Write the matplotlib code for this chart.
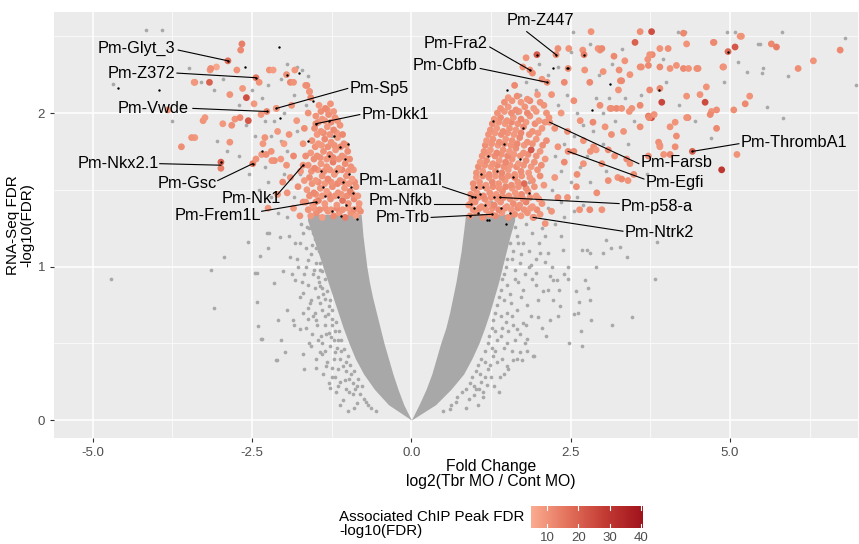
import matplotlib
matplotlib.use("Agg")
import matplotlib.pyplot as plt
from matplotlib.colors import LinearSegmentedColormap, Normalize
from matplotlib.cm import ScalarMappable

plt.rcParams['font.family'] = ['Liberation Sans', 'DejaVu Sans']

# dense grey mass of non-significant genes (envelope of the V, by FDR level)
cloud_y = [0.0, 0.1, 0.2, 0.3, 0.4, 0.5, 0.6, 0.7, 0.8, 0.9, 1.0, 1.1, 1.2, 1.3, 1.34]
cloud_left_in = [0.0, -0.12, -0.21, -0.29, -0.36, -0.43, -0.49, -0.55, -0.61, -0.66, -0.70, -0.73, -0.76, -0.78, -0.79]
cloud_left_out = [0.0, -0.36, -0.58, -0.75, -0.88, -0.98, -1.07, -1.15, -1.23, -1.31, -1.39, -1.47, -1.55, -1.63, -1.63]
cloud_right_in = [0.0, 0.12, 0.23, 0.32, 0.39, 0.46, 0.54, 0.60, 0.65, 0.70, 0.74, 0.78, 0.81, 0.84, 0.85]
cloud_right_out = [0.0, 0.38, 0.62, 0.82, 0.95, 1.06, 1.15, 1.23, 1.30, 1.37, 1.43, 1.49, 1.55, 1.62, 1.62]

# individual grey genes (fold change, -log10 FDR)
grey_left = [
    (-1.60, 1.25), (-1.70, 1.22), (-1.66, 1.12), (-1.58, 1.08), (-1.52, 1.18), (-1.49, 1.02), (-1.55, 0.95),
    (-1.45, 0.90), (-1.40, 0.97), (-1.62, 0.88), (-1.38, 0.82), (-1.44, 0.76), (-1.30, 0.74), (-1.52, 0.70),
    (-1.25, 0.66), (-1.35, 0.62), (-1.20, 0.58), (-1.42, 0.55), (-1.15, 0.52), (-1.28, 0.48), (-1.10, 0.45),
    (-1.22, 0.40), (-1.02, 0.38), (-1.15, 0.33), (-0.95, 0.30), (-1.05, 0.26), (-0.85, 0.22), (-0.92, 0.17),
    (-0.75, 0.14), (-0.68, 0.10), (-0.55, 0.06), (-1.80, 1.05), (-1.75, 0.80), (-1.85, 0.62), (-1.66, 0.60),
    (-1.60, 0.50), (-1.50, 0.40), (-1.38, 0.30), (-1.30, 0.24), (-1.18, 0.18), (-1.08, 0.13), (-1.92, 1.20),
    (-1.88, 0.95), (-1.70, 0.70), (-1.58, 0.78), (-1.48, 0.62), (-1.35, 0.45), (-1.25, 0.34), (-1.74, 1.28),
    (-1.82, 1.15), (-2.43, 0.96), (-2.41, 0.61), (-2.34, 0.53), (-2.42, 0.77), (-2.12, 0.39), (-1.99, 0.44),
    (-2.04, 0.52), (-2.10, 0.65), (-2.15, 0.89), (-2.01, 0.97), (-2.25, 1.12), (-2.38, 1.07), (-2.27, 1.22),
    (-2.06, 1.19), (-1.91, 1.06), (-1.83, 0.91), (-1.96, 0.72), (-1.86, 0.65), (-1.75, 0.59), (-1.70, 0.43),
    (-1.68, 0.33), (-1.49, 0.34), (-1.57, 0.48), (-1.59, 0.76), (-1.70, 0.83), (-1.65, 1.00), (-1.75, 1.15),
    (-1.28, 0.21), (-1.15, 0.22), (-1.25, 0.28), (-1.02, 0.20), (-0.86, 0.11), (-1.41, 0.43), (-1.34, 0.56),
    (-1.50, 0.65), (-1.44, 0.87), (-1.44, 1.02), (-1.49, 1.17), (-4.71, 0.92), (-3.15, 0.98), (-3.10, 0.73),
    (-2.94, 1.06), (-2.56, 1.16), (-2.46, 0.96), (-2.36, 0.53), (-2.24, 1.22), (-2.11, 0.39),
    (-1.58, 1.30), (-1.64, 1.26), (-1.56, 1.14), (-1.62, 1.04), (-1.53, 0.98), (-1.47, 0.93), (-1.52, 0.86),
    (-1.41, 0.86), (-1.36, 0.79), (-1.47, 0.80), (-1.40, 0.72), (-1.31, 0.69), (-1.36, 0.68), (-1.25, 0.62),
    (-1.30, 0.57), (-1.22, 0.52), (-1.26, 0.54), (-1.17, 0.47), (-1.20, 0.44), (-1.12, 0.40), (-1.08, 0.35),
    (-1.03, 0.32), (-0.98, 0.27), (-0.92, 0.24), (-0.88, 0.20), (-0.80, 0.17), (-0.72, 0.12), (-0.63, 0.08),
    (-1.45, 1.10), (-1.50, 1.12), (-1.55, 1.22), (-1.44, 0.98), (-1.35, 0.92), (-1.33, 0.84), (-1.28, 0.78),
    (-1.24, 0.72), (-1.18, 0.64), (-1.14, 0.58), (-1.10, 0.52), (-1.06, 0.46), (-1.00, 0.42), (-0.97, 0.36),
    (-0.90, 0.32), (-0.84, 0.27), (-0.78, 0.22), (-1.68, 0.95), (-1.72, 0.90), (-1.63, 0.73), (-1.55, 0.68),
    (-1.46, 0.52), (-1.40, 0.50), (-1.32, 0.38), (-1.20, 0.28), (-1.12, 0.25), (-0.98, 0.18), (-1.78, 1.00),
    (-1.62, 0.66), (-1.56, 0.56), (-1.44, 0.44), (-1.34, 0.35), (-1.12, 0.10), (-0.90, 0.08), (-1.00, 0.06),
]
grey_right = [
    (1.55, 1.25), (1.65, 1.20), (1.60, 1.10), (1.75, 1.15), (1.50, 1.05), (1.70, 1.02), (1.45, 0.95),
    (1.62, 0.92), (1.85, 1.00), (1.40, 0.85), (1.55, 0.82), (1.75, 0.85), (1.35, 0.75), (1.50, 0.70),
    (1.65, 0.72), (1.28, 0.65), (1.42, 0.60), (1.60, 0.62), (1.22, 0.55), (1.35, 0.52), (1.50, 0.50),
    (1.15, 0.45), (1.28, 0.42), (1.42, 0.40), (1.05, 0.36), (1.20, 0.33), (0.95, 0.28), (1.10, 0.25),
    (0.85, 0.20), (0.98, 0.16), (0.70, 0.12), (0.60, 0.07), (1.90, 1.22), (1.95, 0.88), (1.82, 0.75),
    (1.70, 0.56), (1.58, 0.45), (1.45, 0.30), (1.30, 0.22), (1.12, 0.15), (2.00, 1.15), (1.80, 0.62),
    (1.65, 0.40), (1.38, 0.18), (2.05, 1.25), (3.85, 1.16), (3.82, 0.92), (3.47, 0.67), (3.15, 0.62),
    (3.38, 1.06), (3.27, 1.13), (3.14, 1.12), (3.05, 1.17), (3.00, 1.09), (2.89, 1.00), (2.82, 0.65),
    (2.81, 0.78), (2.72, 0.91), (2.67, 0.48), (2.66, 0.58), (2.58, 0.84), (2.55, 0.69), (2.48, 0.50),
    (2.46, 0.92), (2.67, 1.11), (2.75, 1.11), (2.80, 1.09), (2.38, 1.11), (2.46, 1.00), (2.17, 0.65),
    (2.12, 0.55), (1.93, 0.42), (1.81, 0.53), (2.30, 0.68), (2.33, 0.74), (2.22, 0.78), (2.28, 0.91),
    (2.17, 0.94), (2.07, 0.84), (2.10, 1.03), (2.02, 1.09), (2.14, 1.09), (1.88, 1.01), (1.96, 0.96),
    (1.60, 0.39), (1.52, 0.33), (1.39, 0.28), (1.18, 0.23), (1.02, 0.20), (1.71, 0.44), (1.65, 0.59),
    (1.75, 0.63), (2.62, 0.70), (2.63, 0.77), (2.31, 0.85), (2.23, 0.91), (1.99, 0.67), (1.91, 0.42),
    (1.82, 0.45), (1.74, 0.39), (2.77, 0.86),
    (1.58, 1.30), (1.62, 1.26), (1.55, 1.15), (1.58, 1.05), (1.48, 1.00), (1.42, 0.92), (1.50, 0.88),
    (1.38, 0.80), (1.45, 0.78), (1.32, 0.70), (1.40, 0.68), (1.26, 0.60), (1.32, 0.58), (1.20, 0.50),
    (1.26, 0.47), (1.10, 0.40), (1.16, 0.38), (1.02, 0.32), (1.08, 0.30), (0.92, 0.24), (0.98, 0.22),
    (0.80, 0.18), (0.72, 0.15), (0.62, 0.10), (0.50, 0.06), (1.68, 1.15), (1.72, 1.08), (1.62, 0.98),
    (1.68, 0.90), (1.56, 0.76), (1.48, 0.64), (1.40, 0.55), (1.32, 0.45), (1.24, 0.36), (1.16, 0.28),
    (1.06, 0.20), (0.90, 0.14), (1.80, 1.28), (1.85, 1.10), (1.78, 0.95), (1.72, 0.80), (1.58, 0.68),
    (1.52, 0.58), (1.45, 0.47), (1.35, 0.38), (1.25, 0.28), (1.12, 0.18), (1.95, 1.05), (1.90, 0.92),
    (1.62, 0.52), (1.50, 0.35), (1.05, 0.10), (0.85, 0.08), (2.10, 1.20), (2.20, 1.00), (1.98, 0.78),
    (1.88, 0.68), (1.78, 0.50), (2.25, 1.28), (2.35, 1.20), (2.15, 0.85), (2.40, 0.95), (2.05, 0.60),
]
grey_top = [
    (-1.95, 2.32), (-1.80, 2.30), (-1.72, 2.28), (-1.62, 2.24), (-2.05, 2.22), (-2.25, 2.18), (-2.35, 2.10),
    (-2.50, 2.15), (-2.70, 2.05), (-2.95, 2.22), (-3.10, 2.15), (-3.30, 2.20), (-3.60, 2.05), (-3.75, 1.95),
    (-2.60, 1.92), (-2.45, 1.85), (-2.30, 1.95), (-2.15, 1.95), (-2.00, 2.00), (-1.85, 2.12), (-2.20, 1.85),
    (-2.05, 1.82), (-1.95, 1.75), (-2.30, 1.65), (-2.40, 1.50), (-2.20, 1.45), (-2.10, 1.35), (-1.95, 1.32),
    (-1.85, 1.45), (-1.75, 1.60), (-2.55, 1.60), (-2.70, 1.72), (-2.90, 1.75), (-3.05, 1.82), (-2.25, 1.55),
    (-2.00, 1.60), (-1.80, 1.88), (-1.65, 2.05), (-1.60, 1.48), (-4.17, 2.54), (-3.92, 2.54), (-4.68, 2.19),
    (-3.49, 2.29), (-1.35, 1.38), (-1.15, 1.62), (-1.25, 1.85),
    (2.54, 2.53), (4.19, 2.53), (4.30, 2.53), (4.95, 2.53), (5.08, 2.53), (5.81, 2.53), (6.81, 2.49),
    (5.44, 2.45), (5.52, 2.29), (5.91, 2.24), (5.26, 2.27), (4.90, 2.20), (5.58, 2.04), (5.84, 1.97),
    (5.13, 2.33), (4.71, 1.84), (5.47, 2.45), (5.50, 2.26), (6.98, 2.18), (2.30, 2.05), (2.45, 2.12),
    (2.60, 2.00), (2.70, 1.92), (2.55, 1.85), (2.40, 1.80), (2.25, 1.72), (2.35, 1.62), (2.50, 1.55),
    (2.65, 1.65), (2.20, 1.50), (2.35, 1.42), (2.15, 1.38), (2.05, 1.95), (1.95, 2.15), (2.15, 2.25),
    (2.30, 2.30), (2.00, 2.32), (1.80, 2.20), (1.70, 2.12), (2.90, 2.10), (3.00, 2.00), (3.10, 2.10),
    (2.85, 1.88), (3.20, 1.95), (3.35, 2.10), (3.00, 1.80), (2.75, 1.72), (2.60, 1.45), (2.80, 1.55),
    (3.05, 1.62), (3.60, 2.12), (3.50, 1.95), (4.00, 2.20), (3.95, 2.35), (3.30, 2.42), (3.15, 2.32),
    (2.95, 2.25), (2.50, 2.40), (2.80, 2.45), (1.75, 1.45), (1.60, 1.35), (1.85, 1.55), (1.55, 1.75),
    (1.90, 1.80), (1.45, 1.95), (1.65, 2.00), (2.40, 1.32), (2.55, 1.36), (2.70, 1.40), (3.40, 1.80),
    (4.45, 1.95), (4.20, 2.05), (3.70, 1.60), (1.05, 1.36), (1.25, 1.42),
]

# genes with an associated ChIP peak: (fold change, -log10 FDR, ChIP -log10 FDR)
chip_left = [
    (-1.58, 1.33, 9), (-1.49, 1.35, 11), (-1.40, 1.32, 8), (-1.31, 1.36, 10), (-1.22, 1.33, 12), (-1.13, 1.35, 9),
    (-1.04, 1.32, 14), (-0.95, 1.35, 10), (-0.87, 1.33, 8), (-0.80, 1.36, 11),
    (-1.62, 1.37, 10), (-1.53, 1.38, 9), (-1.44, 1.37, 11), (-1.35, 1.38, 10), (-1.26, 1.37, 9), (-1.17, 1.38, 12),
    (-1.08, 1.37, 10), (-0.99, 1.38, 9), (-0.90, 1.37, 11), (-0.83, 1.38, 10),
    (-1.66, 1.42, 10), (-1.55, 1.40, 8), (-1.46, 1.43, 13), (-1.36, 1.41, 9), (-1.27, 1.44, 11), (-1.17, 1.40, 9),
    (-1.08, 1.43, 16), (-0.99, 1.41, 10), (-0.90, 1.44, 12), (-0.82, 1.41, 9),
    (-1.60, 1.46, 11), (-1.50, 1.47, 10), (-1.40, 1.46, 9), (-1.30, 1.47, 12), (-1.20, 1.46, 10), (-1.10, 1.47, 9),
    (-1.01, 1.46, 11), (-0.92, 1.47, 10), (-0.84, 1.46, 9),
    (-1.64, 1.50, 9), (-1.53, 1.48, 12), (-1.43, 1.51, 10), (-1.33, 1.49, 8), (-1.24, 1.52, 11), (-1.15, 1.48, 10),
    (-1.05, 1.51, 9), (-0.96, 1.49, 13), (-0.87, 1.52, 10),
    (-1.56, 1.54, 10), (-1.46, 1.55, 11), (-1.36, 1.54, 9), (-1.26, 1.55, 10), (-1.16, 1.54, 12), (-1.07, 1.55, 10),
    (-0.98, 1.54, 9), (-0.89, 1.55, 11),
    (-1.60, 1.58, 11), (-1.50, 1.56, 9), (-1.40, 1.59, 10), (-1.31, 1.57, 12), (-1.21, 1.60, 9), (-1.12, 1.56, 11),
    (-1.02, 1.59, 10), (-0.93, 1.57, 8),
    (-1.57, 1.62, 10), (-1.47, 1.63, 9), (-1.37, 1.62, 11), (-1.28, 1.63, 10), (-1.18, 1.62, 9), (-1.09, 1.63, 12),
    (-0.99, 1.62, 10), (-0.91, 1.63, 9),
    (-1.62, 1.66, 10), (-1.52, 1.64, 12), (-1.42, 1.67, 9), (-1.33, 1.65, 10), (-1.23, 1.68, 14), (-1.14, 1.64, 9),
    (-1.04, 1.67, 11), (-0.95, 1.65, 10),
    (-1.53, 1.70, 11), (-1.43, 1.71, 10), (-1.33, 1.70, 9), (-1.23, 1.71, 12), (-1.14, 1.70, 10), (-1.05, 1.71, 9),
    (-0.97, 1.70, 11),
    (-1.58, 1.74, 9), (-1.48, 1.72, 11), (-1.38, 1.75, 10), (-1.28, 1.73, 12), (-1.19, 1.76, 9), (-1.09, 1.72, 10),
    (-1.00, 1.75, 11),
    (-1.51, 1.78, 10), (-1.41, 1.79, 9), (-1.31, 1.78, 11), (-1.21, 1.79, 10), (-1.11, 1.78, 12), (-1.02, 1.79, 9),
    (-1.56, 1.82, 10), (-1.46, 1.80, 9), (-1.36, 1.83, 12), (-1.26, 1.81, 10), (-1.16, 1.84, 9), (-1.06, 1.80, 11),
    (-1.48, 1.86, 9), (-1.38, 1.87, 11), (-1.28, 1.86, 10), (-1.17, 1.87, 9), (-1.08, 1.86, 12),
    (-1.52, 1.90, 11), (-1.42, 1.88, 10), (-1.32, 1.91, 9), (-1.22, 1.89, 12), (-1.12, 1.92, 10),
    (-1.46, 1.94, 10), (-1.36, 1.95, 9), (-1.26, 1.94, 11), (-1.16, 1.95, 10),
    (-1.50, 1.98, 10), (-1.40, 1.96, 9), (-1.30, 1.99, 11), (-1.20, 1.97, 10),
    (-1.42, 2.01, 11), (-1.32, 2.02, 10), (-1.22, 2.01, 9),
    (-1.45, 2.05, 9), (-1.35, 2.03, 12), (-1.27, 2.06, 10),
    (-1.75, 1.33, 10), (-1.85, 1.38, 9), (-1.78, 1.52, 11), (-1.90, 1.58, 10), (-1.74, 1.62, 9), (-1.85, 1.72, 12),
    (-1.70, 1.80, 10), (-1.68, 1.90, 11), (-1.80, 1.95, 9), (-1.62, 2.00, 10), (-1.58, 2.10, 12), (-1.66, 2.18, 10),
    (-1.60, 2.14, 9), (-1.96, 1.66, 10), (-2.05, 1.70, 9), (-2.15, 1.69, 11), (-2.20, 1.75, 10), (-2.00, 1.80, 8),
    (-1.95, 1.48, 10), (-2.02, 1.55, 12), (-1.92, 1.86, 10), (-2.10, 1.88, 9), (-1.88, 2.05, 10), (-2.12, 2.03, 10),
    (-1.70, 1.66, 11), (-1.50, 1.93, 12), (-1.70, 1.42, 10), (-1.68, 1.56, 9), (-1.66, 1.72, 11),
    (-2.68, 2.41, 12), (-2.66, 2.45, 14), (-2.88, 2.34, 18), (-2.74, 2.28, 10), (-3.16, 2.28, 9), (-3.06, 2.30, 6),
    (-3.40, 2.20, 11), (-3.17, 2.20, 20), (-2.85, 2.12, 10), (-2.65, 2.16, 9), (-2.59, 2.10, 24), (-2.44, 2.23, 16),
    (-2.39, 2.20, 10), (-2.47, 2.06, 9), (-2.27, 2.01, 13), (-2.36, 1.99, 9), (-2.23, 2.28, 10), (-2.17, 2.28, 8),
    (-1.96, 2.25, 11), (-1.83, 2.28, 9), (-1.90, 2.20, 12), (-1.85, 2.20, 10), (-1.64, 2.18, 11), (-1.60, 2.14, 10),
    (-2.12, 2.03, 9), (-3.27, 1.95, 10), (-2.96, 1.93, 9), (-2.82, 1.92, 11), (-2.77, 1.96, 10), (-2.56, 1.95, 22),
    (-2.85, 1.81, 10), (-3.40, 1.84, 9), (-3.61, 1.78, 11), (-2.30, 1.84, 10), (-2.33, 1.80, 9), (-2.99, 1.68, 20),
    (-2.99, 1.64, 14), (-2.49, 1.67, 15), (-2.44, 1.70, 10), (-2.35, 1.73, 9), (-2.28, 1.73, 11), (-2.19, 1.69, 10),
    (-3.82, 2.02, 10), (-3.24, 1.97, 9), (-3.45, 1.84, 10), (-2.69, 1.97, 12), (-3.15, 2.29, 11), (-3.41, 2.20, 9),
    (-2.10, 1.47, 10), (-2.25, 1.38, 9), (-1.50, 1.42, 12),
]
chip_right = [
    (0.92, 1.33, 10), (1.02, 1.35, 9), (1.12, 1.32, 11), (1.22, 1.34, 10), (1.32, 1.33, 12), (1.42, 1.35, 9),
    (1.52, 1.32, 10), (1.62, 1.34, 11), (1.72, 1.33, 9), (1.82, 1.35, 10), (1.92, 1.32, 12), (2.02, 1.34, 9),
    (0.97, 1.37, 10), (1.07, 1.38, 11), (1.17, 1.37, 9), (1.27, 1.38, 10), (1.37, 1.37, 12), (1.47, 1.38, 10),
    (1.57, 1.37, 9), (1.67, 1.38, 11), (1.77, 1.37, 10), (1.87, 1.38, 9), (1.97, 1.37, 11),
    (0.90, 1.40, 9), (1.00, 1.42, 11), (1.10, 1.39, 10), (1.20, 1.41, 8), (1.30, 1.40, 12), (1.40, 1.42, 10),
    (1.50, 1.39, 9), (1.60, 1.41, 11), (1.70, 1.40, 10), (1.80, 1.42, 13), (1.90, 1.39, 9), (2.05, 1.41, 10),
    (0.95, 1.44, 10), (1.05, 1.45, 9), (1.15, 1.44, 11), (1.25, 1.45, 10), (1.35, 1.44, 9), (1.45, 1.45, 12),
    (1.55, 1.44, 10), (1.65, 1.45, 9), (1.75, 1.44, 11), (1.86, 1.45, 10), (2.00, 1.44, 9),
    (0.93, 1.47, 10), (1.03, 1.48, 9), (1.13, 1.46, 12), (1.23, 1.48, 10), (1.33, 1.47, 9), (1.43, 1.49, 11),
    (1.53, 1.46, 10), (1.63, 1.48, 9), (1.73, 1.47, 12), (1.83, 1.49, 10), (1.96, 1.46, 9),
    (0.98, 1.51, 11), (1.08, 1.52, 10), (1.18, 1.51, 9), (1.28, 1.52, 11), (1.38, 1.51, 10), (1.48, 1.52, 12),
    (1.58, 1.51, 9), (1.68, 1.52, 10), (1.80, 1.51, 11), (1.93, 1.52, 10),
    (0.97, 1.54, 11), (1.07, 1.55, 10), (1.17, 1.53, 9), (1.27, 1.55, 12), (1.37, 1.54, 10), (1.47, 1.56, 9),
    (1.57, 1.53, 11), (1.67, 1.55, 10), (1.77, 1.54, 18), (1.90, 1.56, 10), (2.08, 1.53, 9),
    (1.02, 1.58, 9), (1.12, 1.59, 11), (1.22, 1.58, 10), (1.32, 1.59, 9), (1.42, 1.58, 11), (1.52, 1.59, 10),
    (1.62, 1.58, 12), (1.73, 1.59, 10), (1.86, 1.58, 9), (2.02, 1.59, 11),
    (1.02, 1.61, 10), (1.12, 1.62, 9), (1.22, 1.60, 11), (1.32, 1.62, 10), (1.42, 1.61, 12), (1.52, 1.63, 9),
    (1.62, 1.60, 10), (1.72, 1.62, 11), (1.84, 1.61, 9), (1.98, 1.63, 10),
    (1.05, 1.65, 11), (1.15, 1.66, 10), (1.25, 1.65, 9), (1.35, 1.66, 12), (1.45, 1.65, 10), (1.55, 1.66, 9),
    (1.65, 1.65, 11), (1.76, 1.66, 10), (1.88, 1.65, 9), (2.04, 1.66, 11),
    (1.08, 1.68, 9), (1.18, 1.69, 11), (1.28, 1.67, 10), (1.38, 1.69, 9), (1.48, 1.68, 12), (1.58, 1.70, 10),
    (1.68, 1.67, 9), (1.80, 1.69, 11), (1.93, 1.68, 10), (2.10, 1.70, 9),
    (1.11, 1.72, 10), (1.21, 1.73, 9), (1.31, 1.72, 11), (1.41, 1.73, 10), (1.51, 1.72, 12), (1.61, 1.73, 9),
    (1.71, 1.72, 10), (1.83, 1.73, 11), (1.96, 1.72, 10),
    (1.14, 1.75, 10), (1.24, 1.76, 9), (1.34, 1.74, 12), (1.44, 1.76, 10), (1.54, 1.75, 9), (1.64, 1.77, 11),
    (1.76, 1.74, 10), (1.88, 1.76, 22), (2.02, 1.75, 9),
    (1.16, 1.79, 11), (1.26, 1.80, 10), (1.36, 1.79, 9), (1.46, 1.80, 11), (1.56, 1.79, 10), (1.66, 1.80, 12),
    (1.77, 1.79, 9), (1.90, 1.80, 10), (2.06, 1.79, 11),
    (1.18, 1.82, 9), (1.28, 1.83, 10), (1.38, 1.81, 11), (1.48, 1.83, 9), (1.58, 1.82, 10), (1.70, 1.84, 12),
    (1.82, 1.81, 10), (1.96, 1.83, 9), (2.12, 1.82, 11),
    (1.21, 1.86, 10), (1.31, 1.87, 9), (1.41, 1.86, 11), (1.51, 1.87, 10), (1.61, 1.86, 9), (1.72, 1.87, 12),
    (1.85, 1.86, 10), (1.99, 1.87, 9),
    (1.24, 1.89, 10), (1.34, 1.90, 9), (1.44, 1.88, 11), (1.54, 1.90, 10), (1.64, 1.89, 9), (1.76, 1.91, 12),
    (1.90, 1.88, 10), (2.05, 1.90, 9),
    (1.27, 1.93, 11), (1.37, 1.94, 10), (1.47, 1.93, 9), (1.57, 1.94, 12), (1.67, 1.93, 10), (1.80, 1.94, 9),
    (1.94, 1.93, 11), (2.10, 1.94, 10),
    (1.30, 1.96, 9), (1.40, 1.97, 11), (1.50, 1.95, 10), (1.60, 1.97, 9), (1.72, 1.96, 12), (1.86, 1.98, 10),
    (2.00, 1.95, 9), (2.16, 1.97, 10),
    (1.35, 2.00, 10), (1.46, 2.01, 9), (1.57, 2.00, 11), (1.69, 2.01, 10), (1.82, 2.00, 12), (1.96, 2.01, 9),
    (2.12, 2.00, 10),
    (1.40, 2.03, 10), (1.52, 2.04, 9), (1.64, 2.02, 11), (1.78, 2.04, 10), (1.92, 2.03, 9), (2.08, 2.05, 10),
    (1.46, 2.07, 11), (1.58, 2.08, 10), (1.72, 2.07, 9), (1.86, 2.08, 12), (2.02, 2.07, 10),
    (1.52, 2.10, 9), (1.66, 2.11, 11), (1.82, 2.09, 10), (1.98, 2.12, 9),
    (2.82, 2.53, 10), (3.59, 2.53, 11), (3.77, 2.53, 24), (4.27, 2.52, 12), (5.18, 2.50, 10), (6.73, 2.41, 12),
    (6.31, 2.34, 10), (6.07, 2.29, 11), (5.65, 2.45, 12), (5.73, 2.43, 14), (5.08, 2.43, 22), (4.97, 2.40, 18),
    (4.75, 2.46, 11), (4.32, 2.45, 10), (4.89, 2.30, 12), (4.63, 2.17, 10), (4.61, 2.07, 25), (5.31, 2.11, 10),
    (5.24, 2.06, 12), (5.06, 2.02, 11), (4.71, 2.01, 10), (4.69, 1.99, 12), (5.11, 1.73, 10), (4.87, 1.63, 30),
    (4.41, 1.75, 20), (4.16, 1.85, 11), (4.14, 1.94, 10), (4.34, 1.97, 12), (3.90, 1.78, 10), (3.88, 1.81, 11),
    (3.77, 1.97, 24), (3.72, 1.98, 14), (3.81, 1.99, 10), (3.59, 1.91, 11), (3.42, 2.01, 10), (3.59, 2.05, 12),
    (3.93, 2.07, 26), (3.74, 2.15, 12), (4.32, 2.11, 10), (4.50, 2.29, 11), (4.16, 2.31, 10), (3.90, 2.30, 12),
    (3.61, 2.30, 11), (3.71, 2.35, 10), (3.78, 2.38, 12), (3.35, 2.34, 10), (3.51, 2.46, 20), (2.96, 2.41, 11),
    (2.69, 2.41, 10), (3.18, 2.37, 12), (3.28, 2.21, 11), (3.14, 2.03, 10), (3.22, 2.03, 12), (3.30, 2.03, 10),
    (2.96, 2.05, 11), (2.85, 1.94, 12), (3.04, 1.91, 10), (3.14, 1.86, 11), (3.33, 1.88, 10), (3.09, 1.76, 12),
    (2.81, 1.75, 10), (2.86, 1.78, 11), (2.90, 1.76, 9), (2.99, 1.67, 10), (3.09, 1.56, 11), (3.24, 1.58, 10),
    (3.30, 1.57, 12), (3.40, 1.56, 10), (3.72, 1.72, 11), (3.96, 1.73, 10), (4.06, 1.73, 12), (2.70, 1.67, 10),
    (2.30, 2.42, 11), (2.47, 2.42, 10), (2.71, 2.38, 14), (2.93, 2.42, 10), (2.99, 2.42, 12), (2.46, 2.29, 11),
    (2.72, 2.28, 10), (2.80, 2.20, 12), (3.01, 2.27, 10), (3.26, 2.28, 11), (3.30, 2.21, 12), (3.43, 2.25, 10),
    (3.59, 2.30, 11), (3.74, 2.38, 10), (3.72, 2.31, 12), (3.90, 2.42, 10), (4.03, 2.42, 11), (4.06, 2.29, 10),
    (4.27, 2.29, 12), (4.35, 2.29, 10), (4.48, 2.29, 11), (4.90, 2.30, 10), (4.74, 2.46, 12), (5.16, 2.50, 10),
    (4.79, 2.02, 11), (4.53, 2.12, 10), (3.90, 2.16, 12), (3.25, 2.15, 10), (3.12, 2.03, 11), (3.46, 2.03, 10),
    (3.73, 1.97, 12), (4.06, 1.91, 10), (4.14, 1.78, 11), (4.32, 1.97, 10), (4.79, 1.90, 12), (3.90, 1.79, 10),
    (2.91, 1.48, 11), (2.64, 1.37, 10), (2.80, 1.37, 12), (2.99, 1.37, 10), (2.59, 1.52, 11), (3.19, 1.72, 10),
    (3.38, 1.70, 12), (3.43, 1.67, 10), (3.49, 1.60, 11),
    (2.20, 1.36, 10), (2.30, 1.45, 11), (2.25, 1.58, 9), (2.40, 1.68, 12), (2.30, 1.78, 10), (2.45, 1.88, 11),
    (2.25, 1.90, 10), (2.35, 2.00, 9), (2.55, 2.08, 11), (2.20, 2.12, 10), (2.40, 2.20, 12), (2.05, 2.22, 10),
    (1.90, 2.26, 11), (1.75, 2.30, 10), (1.62, 2.18, 12), (2.65, 1.95, 10), (2.55, 1.75, 11), (2.70, 1.82, 10),
    (2.45, 1.45, 10), (2.60, 1.60, 11), (2.10, 1.28, 10), (1.86, 2.28, 12), (2.13, 2.20, 11), (2.27, 2.38, 12),
    (1.97, 2.38, 22), (1.80, 2.36, 10), (2.17, 1.94, 10), (2.46, 1.75, 12), (1.39, 1.45, 11), (1.91, 1.32, 10),
    (1.00, 1.45, 10), (0.93, 1.41, 11), (1.26, 1.34, 10),
]

# black-centred genes
black_pts = [
    (-4.60, 2.16), (-3.96, 2.15), (-2.08, 2.43), (-2.61, 2.30), (-2.88, 2.34), (-2.44, 2.23), (-2.27, 2.01),
    (-1.96, 2.25), (-2.06, 1.97), (-2.49, 1.67), (-2.99, 1.68), (-1.70, 1.66), (-1.50, 1.42), (-1.50, 1.93),
    (-1.76, 2.26), (-1.55, 2.08), (-1.30, 1.95), (-1.22, 1.85), (-1.12, 1.78), (-1.05, 1.70), (-1.30, 1.72),
    (-1.18, 1.62), (-0.98, 1.60), (-1.08, 1.55), (-0.92, 1.48), (-1.15, 1.45), (-1.38, 1.52), (-0.90, 1.38),
    (-1.02, 1.40), (-1.25, 1.36), (-0.85, 1.31), (-1.42, 1.62), (-1.62, 1.82), (-2.12, 2.03), (-2.35, 1.75),
    (-1.00, 1.80), (-0.95, 1.52), (-1.35, 1.46), (-1.10, 1.33),
    (2.27, 2.38), (1.97, 2.38), (2.71, 2.38), (2.46, 2.29), (2.22, 2.29), (1.50, 2.15), (3.12, 2.19),
    (3.89, 2.15), (2.84, 2.02), (4.97, 2.40), (4.41, 1.75), (2.13, 2.20), (1.86, 2.28), (2.44, 2.29),
    (1.28, 1.95), (1.45, 1.80), (1.20, 1.72), (1.10, 1.60), (1.35, 1.62), (1.02, 1.52), (0.95, 1.45),
    (1.08, 1.47), (0.98, 1.38), (0.92, 1.33), (1.05, 1.35), (1.15, 1.40), (1.22, 1.30), (1.30, 1.45),
    (1.40, 1.38), (1.00, 1.45), (0.93, 1.41), (1.26, 1.34), (1.39, 1.45), (1.12, 1.52), (1.60, 1.58),
    (1.75, 1.90), (1.55, 1.35), (1.85, 1.48), (1.70, 1.70), (1.18, 1.30), (1.48, 1.28),
]

# labels: gene, point, text position, alignment, segment start
label_names = ["Pm-Glyt_3", "Pm-Z372", "Pm-Vwde", "Pm-Sp5", "Pm-Dkk1", "Pm-Nkx2.1", "Pm-Gsc", "Pm-Nk1",
               "Pm-Frem1L", "Pm-Lama1l", "Pm-Nfkb", "Pm-Trb", "Pm-Z447", "Pm-Fra2", "Pm-Cbfb", "Pm-Farsb",
               "Pm-Egfi", "Pm-ThrombA1", "Pm-p58-a", "Pm-Ntrk2"]
label_px = [-2.88, -2.44, -2.27, -2.12, -1.50, -2.99, -2.49, -1.70, -1.50, 1.00, 0.93, 1.26, 2.27, 1.86,
            2.13, 2.17, 2.46, 4.41, 1.39, 1.91]
label_py = [2.34, 2.23, 2.01, 2.03, 1.93, 1.66, 1.67, 1.66, 1.42, 1.45, 1.41, 1.34, 2.38, 2.28, 2.20, 1.94,
            1.75, 1.75, 1.45, 1.32]
label_tx = [-3.70, -3.71, -3.49, -0.97, -0.78, -3.96, -3.05, -2.05, -2.36, 0.49, 0.34, 0.29, 2.02, 1.20,
            1.04, 3.60, 3.67, 5.17, 3.29, 3.35]
label_ty = [2.42, 2.26, 2.03, 2.16, 1.99, 1.67, 1.54, 1.44, 1.33, 1.56, 1.43, 1.32, 2.60, 2.45, 2.31, 1.68,
            1.55, 1.81, 1.39, 1.22]
label_ha = ["right", "right", "right", "left", "left", "right", "right", "right", "right", "right", "right",
            "right", "center", "right", "right", "left", "left", "left", "left", "left"]
seg_x0 = [-3.66, -3.68, -3.43, -1.00, -0.81, -3.95, -3.04, -2.10, -2.35, 0.49, 0.35, 0.31, 1.81, 1.23,
          1.08, 3.57, 3.65, 5.14, 3.26, 3.32]
seg_y0 = [2.41, 2.26, 2.03, 2.16, 1.99, 1.67, 1.56, 1.47, 1.36, 1.52, 1.41, 1.32, 2.53, 2.43, 2.29, 1.67,
          1.57, 1.80, 1.41, 1.23]

x_ticks = [-5.0, -2.5, 0.0, 2.5, 5.0]
y_ticks = [0, 1, 2]
cbar_ticks = [10, 20, 30, 40]

cmap = LinearSegmentedColormap.from_list("chip", ["#FBAC90", "#E2705A", "#C23A33", "#A0121B"])
norm = Normalize(vmin=4.9, vmax=40.6)
grey = "#A8A8A8"

fig = plt.figure(figsize=(8.59, 5.44), dpi=100)
ax = fig.add_axes([54 / 859, 106 / 544, 804 / 859, 426 / 544])
ax.set_facecolor("#EBEBEB")
for s in ax.spines.values():
    s.set_visible(False)

ax.set_xlim(-5.61, 7.01)
ax.set_ylim(-0.117, 2.658)
ax.set_xticks(x_ticks)
ax.set_xticklabels(["-5.0", "-2.5", "0.0", "2.5", "5.0"])
ax.set_yticks(y_ticks)
ax.set_xticks([-3.75, -1.25, 1.25, 3.75, 6.25], minor=True)
ax.set_yticks([0.5, 1.5, 2.5], minor=True)
ax.grid(True, which="major", color="white", lw=1.1)
ax.grid(True, which="minor", color="white", lw=0.5)
ax.set_axisbelow(True)
ax.tick_params(which="major", length=3, color="#333333", labelcolor="#4D4D4D", labelsize=9.5)
ax.tick_params(which="minor", length=0)

# grey V
ax.fill_betweenx(cloud_y, cloud_left_out, cloud_left_in, color=grey, lw=0, zorder=1)
ax.fill_betweenx(cloud_y, cloud_right_in, cloud_right_out, color=grey, lw=0, zorder=1)
gx = [p[0] for p in grey_left + grey_right + grey_top]
gy = [p[1] for p in grey_left + grey_right + grey_top]
ax.scatter(gx, gy, s=7, color=grey, lw=0, zorder=2)

chip = chip_left + chip_right
ax.scatter([p[0] for p in chip], [p[1] for p in chip], c=[p[2] for p in chip], cmap=cmap, norm=norm,
           s=24, lw=0, zorder=3)
ax.scatter([p[0] for p in black_pts], [p[1] for p in black_pts], s=3, color="black", lw=0, zorder=4)

for i, name in enumerate(label_names):
    ax.plot([seg_x0[i], label_px[i]], [seg_y0[i], label_py[i]], color="black", lw=0.8, zorder=5)
    ax.text(label_tx[i], label_ty[i], name, ha=label_ha[i], va="center", fontsize=11.8, zorder=6)

fig.text(491 / 859, 1 - 474 / 544, "Fold Change\nlog2(Tbr MO / Cont MO)", ha="center", va="center",
         fontsize=11.3, linespacing=1.05)
fig.text(20 / 859, 1 - 225 / 544, "RNA-Seq FDR\n-log10(FDR)", ha="center", va="center", rotation=90,
         fontsize=11, linespacing=1.0)

cax = fig.add_axes([531 / 859, 16 / 544, 112 / 859, 22 / 544])
cb = fig.colorbar(ScalarMappable(norm=norm, cmap=cmap), cax=cax, orientation="horizontal", ticks=cbar_ticks)
cb.outline.set_visible(False)
cax.tick_params(length=0, labelsize=9.5, labelcolor="#4D4D4D", pad=3)
for t in cbar_ticks:
    cax.plot([t, t], [0, 0.18], color="white", lw=0.8)
    cax.plot([t, t], [0.82, 1], color="white", lw=0.8)
fig.text(339 / 859, 1 - 524 / 544, "Associated ChIP Peak FDR\n-log10(FDR)", ha="left", va="center",
         fontsize=10.9, linespacing=1.05)

fig.savefig("out.png", dpi=100)
